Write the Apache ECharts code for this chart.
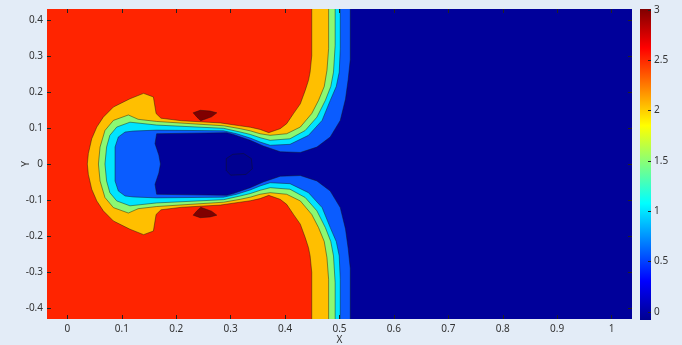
<!DOCTYPE html>
<html>
<head>
<meta charset="utf-8">
<script src="https://cdn.jsdelivr.net/npm/echarts@6/dist/echarts.min.js"></script>
<style>
  html, body { margin: 0; padding: 0; background: #e3ecf7; }
  #chart { width: 682px; height: 345px; }
</style>
</head>
<body>
<div id="chart"></div>
<script>
// axis extents and ticks
const xRange = [-0.0375, 1.0375];
const yRange = [-0.43, 0.43];
const xTicks = [0, 0.1, 0.2, 0.3, 0.4, 0.5, 0.6, 0.7, 0.8, 0.9, 1];
const yTicks = [-0.4, -0.3, -0.2, -0.1, 0, 0.1, 0.2, 0.3, 0.4];
const cbRange = [-0.08, 3.01];
const cbTicks = [0, 0.5, 1, 1.5, 2, 2.5, 3];

// contour levels, upper half of each line (top edge -> centre line)
const contour25 = [[0.449,0.43],[0.449,0.30],[0.446,0.255],[0.443,0.232],[0.437,0.204],[0.428,0.167],[0.4155,0.14],[0.403,0.112],[0.391,0.098],[0.37,0.087],[0.354,0.096],[0.336,0.102],[0.317,0.106],[0.281,0.114],[0.21,0.12],[0.172,0.127],[0.163,0.14],[0.158,0.186],[0.14,0.196],[0.115,0.181],[0.0845,0.158],[0.066,0.13],[0.054,0.1025],[0.0447,0.07],[0.0385,0.029],[0.0366,0]];
const contour20 = [[0.48,0.43],[0.48,0.32],[0.477,0.26],[0.472,0.215],[0.4615,0.1765],[0.449,0.14],[0.428,0.1025],[0.403,0.084],[0.3726,0.0795],[0.354,0.084],[0.336,0.092],[0.3175,0.098],[0.287,0.106],[0.2255,0.112],[0.164,0.118],[0.13,0.124],[0.112,0.136],[0.0845,0.121],[0.069,0.093],[0.06,0.047],[0.057,0]];
const contour15 = [[0.492,0.43],[0.492,0.329],[0.489,0.255],[0.484,0.215],[0.474,0.1765],[0.4585,0.13],[0.437,0.093],[0.409,0.07],[0.3726,0.0657],[0.354,0.073],[0.336,0.082],[0.3175,0.0887],[0.287,0.099],[0.164,0.108],[0.115,0.116],[0.0907,0.1025],[0.078,0.0795],[0.072,0.047],[0.069,0]];
const contour10 = [[0.5014,0.43],[0.5014,0.32],[0.4995,0.255],[0.494,0.215],[0.483,0.1765],[0.468,0.121],[0.443,0.0795],[0.409,0.0546],[0.3726,0.052],[0.354,0.061],[0.336,0.072],[0.311,0.084],[0.287,0.092],[0.164,0.094],[0.121,0.0914],[0.106,0.0887],[0.0936,0.075],[0.0875,0.047],[0.0875,0]];
const contour05 = [[0.5198,0.43],[0.5198,0.29],[0.516,0.235],[0.511,0.18],[0.5014,0.121],[0.483,0.075],[0.4585,0.047],[0.428,0.032],[0.391,0.034],[0.36,0.05],[0.336,0.0657],[0.305,0.082],[0.293,0.087],[0.164,0.084],[0.161,0.0565],[0.168,0.025],[0.171,0]];
// small closed contours
const peakTop = [[0.231,0.142],[0.244,0.149],[0.262,0.147],[0.2746,0.142],[0.265,0.131],[0.245,0.12],[0.238,0.13]];
const dipRing = [[0.304,0.027],[0.324,0.029],[0.338,0.015],[0.34,-0.013],[0.328,-0.029],[0.30,-0.031],[0.292,-0.018],[0.292,0.015]];

// band colours (jet colormap at the level values)
const colRed = "#ff2400";
const colOrange = "#ffbf00";
const colGreen = "#8cf872";
const colCyan = "#00e4ff";
const colBlue = "#0a5cff";
const colNavy = "#00009a";
const colDarkRed = "#800000";
const lineColor = "rgba(20,20,20,0.75)";

const jetStops = [
  { offset: 0, color: "#00008f" },
  { offset: 0.125, color: "#0000ff" },
  { offset: 0.375, color: "#00ffff" },
  { offset: 0.625, color: "#ffff00" },
  { offset: 0.875, color: "#ff0000" },
  { offset: 1, color: "#800000" },
];

/**
 * Helpers : lines are symmetric around y = 0
 */
const mirror = (line) => line.map(([x, y]) => [x, -y]);
const fullLine = (half) => half.concat(mirror(half).reverse().slice(1));
const belowRegion = (half) =>
  fullLine(half).concat([
    [xRange[1], yRange[0]],
    [xRange[1], yRange[1]],
  ]);

const fills = [
  { pts: [[xRange[0], yRange[0]], [xRange[1], yRange[0]], [xRange[1], yRange[1]], [xRange[0], yRange[1]]], color: colRed },
  { pts: belowRegion(contour25), color: colOrange },
  { pts: belowRegion(contour20), color: colGreen },
  { pts: belowRegion(contour15), color: colCyan },
  { pts: belowRegion(contour10), color: colBlue },
  { pts: belowRegion(contour05), color: colNavy },
  { pts: peakTop, color: colDarkRed, stroke: true },
  { pts: mirror(peakTop), color: colDarkRed, stroke: true },
  { pts: dipRing, color: "#000090", stroke: true },
];
const lines = [contour25, contour20, contour15, contour10, contour05].map(fullLine);

const chart = echarts.init(document.getElementById("chart"), null, { renderer: "canvas" });

const tickStyle = { color: "#222", width: 1 };
const labelStyle = { color: "#333", fontSize: 10, fontFamily: "Noto Sans" };
const noLine = { show: false, onZero: false };

const option = {
  backgroundColor: "#e3ecf7",
  animation: false,
  grid: [
    { left: 47, right: 50, top: 9, bottom: 26, outerBoundsMode: "none", containLabel: false },
    { left: 640, width: 11, top: 9, bottom: 25, outerBoundsMode: "none", containLabel: false },
  ],
  xAxis: [
    {
      type: "value", gridIndex: 0, min: xRange[0], max: xRange[1], z: 10, position: "bottom",
      name: "X", nameLocation: "middle", nameGap: 16, nameMoveOverlap: false,
      nameTextStyle: labelStyle,
      axisLine: noLine, splitLine: { show: false },
      axisTick: { inside: true, length: 4, customValues: xTicks, lineStyle: tickStyle },
      axisLabel: Object.assign({ customValues: xTicks, margin: 5 }, labelStyle),
    },
    {
      type: "value", gridIndex: 0, min: xRange[0], max: xRange[1], z: 10, position: "top",
      axisLine: noLine, splitLine: { show: false }, axisLabel: { show: false },
      axisTick: { inside: true, length: 4, customValues: xTicks, lineStyle: tickStyle },
    },
    { type: "value", gridIndex: 1, min: 0, max: 1, show: false },
  ],
  yAxis: [
    {
      type: "value", gridIndex: 0, min: yRange[0], max: yRange[1], z: 10, position: "left",
      name: "Y", nameLocation: "middle", nameGap: 16, nameMoveOverlap: false,
      nameTextStyle: labelStyle,
      axisLine: noLine, splitLine: { show: false },
      axisTick: { inside: true, length: 4, customValues: yTicks, lineStyle: tickStyle },
      axisLabel: Object.assign({ customValues: yTicks, margin: 4 }, labelStyle),
    },
    {
      type: "value", gridIndex: 0, min: yRange[0], max: yRange[1], z: 10, position: "right",
      axisLine: noLine, splitLine: { show: false }, axisLabel: { show: false },
      axisTick: { inside: true, length: 4, customValues: yTicks, lineStyle: tickStyle },
    },
    {
      type: "value", gridIndex: 1, min: cbRange[0], max: cbRange[1], z: 10, position: "right",
      axisLine: noLine, splitLine: { show: false },
      axisTick: { inside: true, length: 3, customValues: cbTicks, lineStyle: tickStyle },
      axisLabel: Object.assign({ customValues: cbTicks, margin: 3 }, labelStyle),
    },
  ],
  series: [
    {
      // filled contour bands, painted from high to low
      type: "custom",
      xAxisIndex: 0,
      yAxisIndex: 0,
      silent: true,
      clip: true,
      data: fills.map((f) => f.pts[0]),
      renderItem: (params, api) => {
        const f = fills[params.dataIndex];
        return {
          type: "polygon",
          shape: { points: f.pts.map((p) => api.coord(p)) },
          style: {
            fill: f.color,
            stroke: f.stroke ? lineColor : null,
            lineWidth: 0.6,
          },
        };
      },
    },
    {
      // contour lines
      type: "custom",
      xAxisIndex: 0,
      yAxisIndex: 0,
      silent: true,
      clip: true,
      z: 3,
      data: lines.map((l) => l[0]),
      renderItem: (params, api) => ({
        type: "polyline",
        shape: { points: lines[params.dataIndex].map((p) => api.coord(p)) },
        style: { fill: null, stroke: lineColor, lineWidth: 0.6 },
      }),
    },
    {
      // colorbar
      type: "custom",
      xAxisIndex: 2,
      yAxisIndex: 2,
      silent: true,
      data: [[0, cbRange[0]]],
      renderItem: (params, api) => {
        const p0 = api.coord([0, cbRange[1]]);
        const p1 = api.coord([1, cbRange[0]]);
        return {
          type: "rect",
          shape: { x: p0[0], y: p0[1], width: p1[0] - p0[0], height: p1[1] - p0[1] },
          style: { fill: new echarts.graphic.LinearGradient(0, 1, 0, 0, jetStops) },
        };
      },
    },
  ],
};

chart.setOption(option);
</script>
</body>
</html>
